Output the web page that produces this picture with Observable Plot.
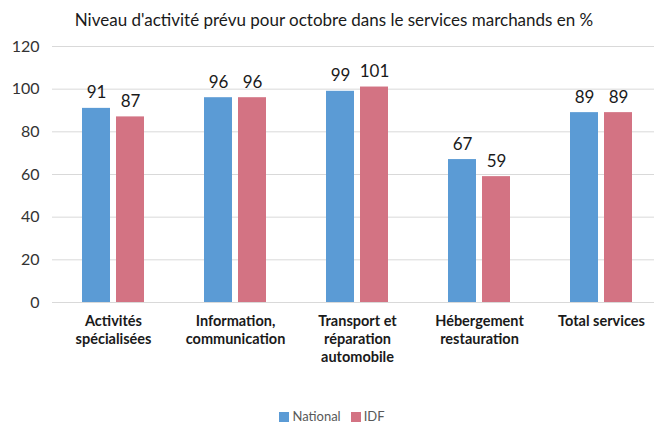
<!DOCTYPE html>
<html><head><meta charset="utf-8">
<script src="https://cdn.jsdelivr.net/npm/d3@7"></script>
<script src="https://cdn.jsdelivr.net/npm/@observablehq/plot@0.6"></script>
<style>
body{margin:0;background:#fff;font-family:Lato,"Open Sans",sans-serif;width:654px;height:423px;overflow:hidden}
#title{height:34px;line-height:40px;text-align:center;font-size:17px;color:#1a1a1a;padding-left:14px;box-sizing:border-box;white-space:nowrap}
#legend{height:13px;line-height:13px;display:flex;justify-content:center;align-items:center;font-size:13px;color:#595959;padding-left:10px;margin-top:10px}
#legend span.sw{display:inline-block;width:10px;height:10px;margin-right:3px}
#legend .item{display:flex;align-items:center;margin:0 5px}
</style></head>
<body>
<div id="title">Niveau d'activité prévu pour octobre dans le services marchands en %</div>
<div id="chart"></div>
<div id="legend"></div>
<script>
const categories = ["Activités spécialisées","Information, communication","Transport et réparation automobile","Hébergement restauration","Total services"];
const categoryLabels = ["Activités\nspécialisées","Information,\ncommunication","Transport et\nréparation\nautomobile","Hébergement\nrestauration","Total services"];
const series = ["National","IDF"];
const nationalValues = [91, 96, 99, 67, 89];
const idfValues = [87, 96, 101, 59, 89];
const yTicks = [0, 20, 40, 60, 80, 100, 120];
const colors = ["#5B9BD5", "#D37383"];

const rows = [];
categories.forEach((c, i) => {
  rows.push({cat: c, serie: "National", value: nationalValues[i]});
  rows.push({cat: c, serie: "IDF", value: idfValues[i]});
});
const labelRows = categories.map((c, i) => ({cat: c, label: categoryLabels[i]}));

const chart = Plot.plot({
  width: 654,
  height: 366,
  marginTop: 12,
  marginBottom: 98,
  marginLeft: 51,
  marginRight: -9,
  style: {fontFamily: "Lato, 'Open Sans', sans-serif", background: "#fff", display: "block"},
  fx: {domain: categories, padding: 0, axis: null},
  x: {domain: series, paddingInner: 0.18, paddingOuter: 0.88, axis: null},
  y: {domain: [0, 120], ticks: yTicks, tickSize: 0, tickPadding: 13, label: null, axis: null},
  color: {domain: series, range: colors},
  marks: [
    Plot.ruleY(yTicks, {y: d => d, stroke: "#d9d9d9", strokeWidth: 1}),
    Plot.barY(rows, {fx: "cat", x: "serie", y: "value", fill: "serie"}),
    Plot.text(rows, {fx: "cat", x: "serie", y: "value", text: d => String(d.value), lineAnchor: "bottom", dy: -10, fontSize: 17, fill: "#1a1a1a"}),
    Plot.text(labelRows, {fx: "cat", text: "label", frameAnchor: "bottom", lineAnchor: "top", dy: 11, fontSize: 14.5, fontWeight: "bold", fill: "#1a1a1a", lineHeight: 1.24}),
    Plot.axisY({ticks: yTicks, tickSize: 0, tickPadding: 13, fontSize: 16, fill: "#333", facetAnchor: "left", label: null})
  ]
});
document.getElementById("chart").appendChild(chart);

const legend = document.getElementById("legend");
series.forEach((s, i) => {
  const item = document.createElement("div");
  item.className = "item";
  item.innerHTML = `<span class="sw" style="background:${colors[i]}"></span><span>${s}</span>`;
  legend.appendChild(item);
});
</script>
</body></html>
